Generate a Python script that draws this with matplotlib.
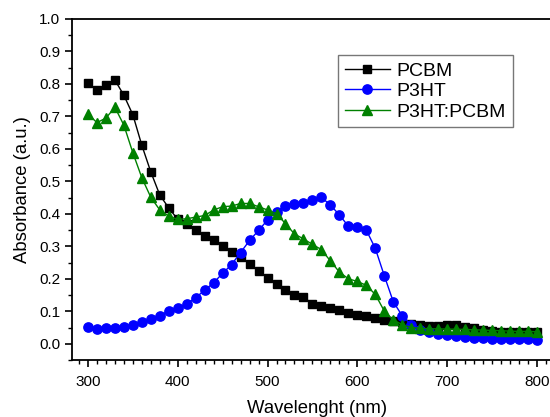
import numpy as np
import matplotlib
matplotlib.use("Agg")
import matplotlib.pyplot as plt
from matplotlib.ticker import MultipleLocator, FormatStrFormatter

plt.rcParams['font.family'] = ['Liberation Sans', 'DejaVu Sans']

# Longueurs d'onde (nm)
wavelength = list(range(300, 801, 10))

pcbm = [0.802, 0.782, 0.796, 0.812, 0.765, 0.705, 0.611, 0.529, 0.458, 0.418,
        0.383, 0.370, 0.349, 0.331, 0.319, 0.300, 0.283, 0.266, 0.246, 0.223,
        0.204, 0.184, 0.165, 0.150, 0.144, 0.123, 0.116, 0.109, 0.103, 0.094,
        0.090, 0.085, 0.078, 0.074, 0.069, 0.067, 0.062, 0.057, 0.056, 0.056,
        0.058, 0.058, 0.053, 0.048, 0.043, 0.040, 0.037, 0.036, 0.036, 0.036,
        0.036]

p3ht = [0.053, 0.046, 0.047, 0.049, 0.053, 0.058, 0.066, 0.076, 0.086, 0.102,
        0.111, 0.123, 0.142, 0.165, 0.188, 0.217, 0.244, 0.281, 0.318, 0.349,
        0.381, 0.407, 0.425, 0.430, 0.434, 0.444, 0.451, 0.427, 0.397, 0.362,
        0.358, 0.350, 0.294, 0.210, 0.130, 0.086, 0.059, 0.043, 0.036, 0.030,
        0.026, 0.023, 0.021, 0.019, 0.017, 0.016, 0.015, 0.015, 0.014, 0.014,
        0.013]

blend = [0.707, 0.681, 0.695, 0.728, 0.673, 0.588, 0.511, 0.451, 0.412, 0.393,
         0.383, 0.385, 0.390, 0.395, 0.412, 0.422, 0.424, 0.432, 0.432, 0.422,
         0.412, 0.400, 0.370, 0.338, 0.323, 0.306, 0.290, 0.255, 0.221, 0.200,
         0.192, 0.180, 0.152, 0.101, 0.073, 0.059, 0.050, 0.048, 0.046, 0.046,
         0.045, 0.045, 0.044, 0.043, 0.042, 0.041, 0.040, 0.039, 0.038, 0.038,
         0.037]

fig = plt.figure(figsize=(5.5, 4.17), dpi=100)
# l'axe droit sort de l'image, comme dans l'original
ax = fig.add_axes([72 / 550, 57 / 417, 490 / 550, 341 / 417])

ax.plot(wavelength, pcbm, '-s', color='black', lw=1, ms=6.2, label='PCBM')
ax.plot(wavelength, p3ht, '-o', color='#0000ff', lw=1, ms=6.7, label='P3HT')
ax.plot(wavelength, blend, '-^', color='#008000', lw=1, ms=7.2, label='P3HT:PCBM')

ax.set_xlim(282.2, 828)
ax.set_ylim(-0.05, 1.0)
ax.xaxis.set_major_locator(MultipleLocator(100))
ax.xaxis.set_minor_locator(MultipleLocator(10))
ax.yaxis.set_major_locator(MultipleLocator(0.1))
ax.yaxis.set_minor_locator(MultipleLocator(0.05))
ax.yaxis.set_major_formatter(FormatStrFormatter('%.1f'))

ax.tick_params(which='major', direction='out', length=5, width=1.2, labelsize=11,
               top=False, right=False)
ax.tick_params(axis='x', which='major', pad=6)
ax.tick_params(which='minor', direction='out', length=3, width=1, top=False, right=False)
for s in ax.spines.values():
    s.set_linewidth(1.3)

ax.set_xlabel('Wavelenght (nm)', fontsize=13.3, labelpad=8)
ax.set_ylabel('Absorbance (a.u.)', fontsize=13.3, labelpad=6)

leg = ax.legend(loc='upper left', bbox_to_anchor=(0.543, 0.894), fontsize=14,
                frameon=True, fancybox=False, edgecolor='#555555',
                handlelength=2.3, handletextpad=0.35, labelspacing=0.15,
                borderpad=0.35, borderaxespad=0)
leg.get_frame().set_linewidth(1)

fig.savefig('out.png', dpi=100)
